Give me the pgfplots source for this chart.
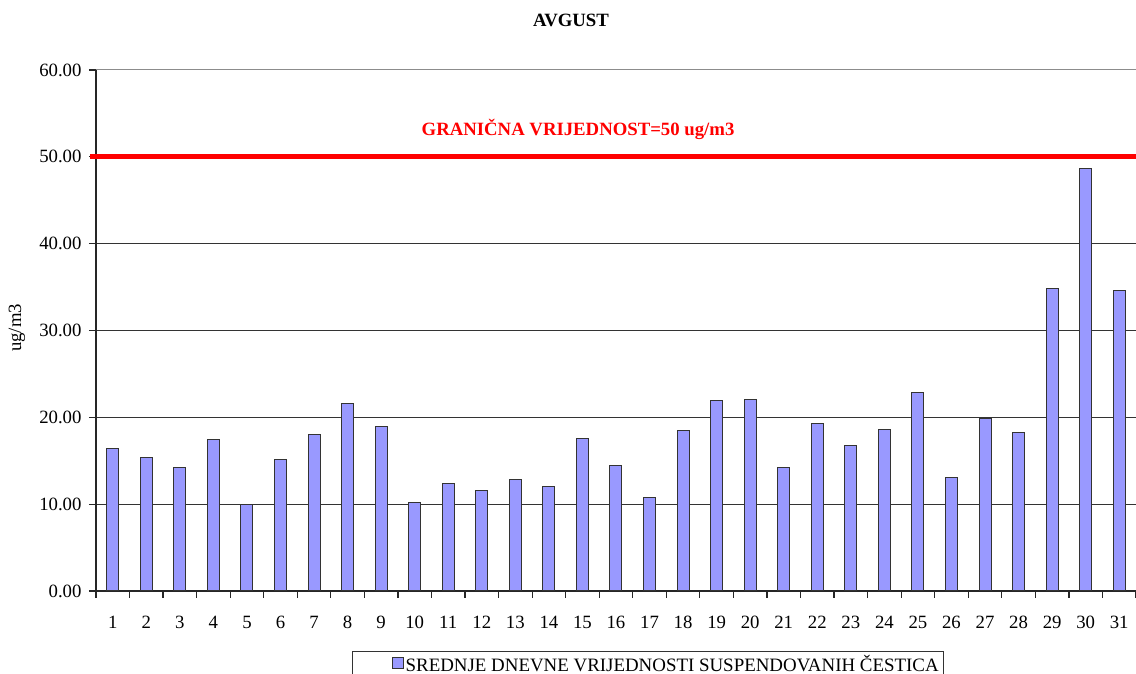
\documentclass[border=0pt]{standalone}
\usepackage{pgfplots}
\pgfplotsset{compat=1.18}
\usepackage{fontspec}
\setmainfont{Liberation Serif}
\definecolor{barcol}{HTML}{9999FF}
\begin{document}
\begin{tikzpicture}[x=1pt,y=1pt]
\useasboundingbox (0,0) rectangle (1136,674);
\begin{axis}[
  at={(96pt,83pt)}, anchor=south west,
  scale only axis, width=1040pt, height=521pt,
  xmin=0.5, xmax=31.5, ymin=0, ymax=60,
  axis x line*=bottom, axis y line*=left,
  axis line style={black!85, line width=1.2pt},
  xtick={1,...,31}, major x tick style={draw=none},
  minor xtick={0.5,1.5,...,31.5},
  minor x tick style={black!85, line width=1.2pt},
  major tick length=7pt, minor tick length=7pt,
  ytick={0,10,...,50}, ymajorgrids,
  extra y ticks={60},
  extra y tick style={grid style={black!45, line width=1pt}},
  grid style={black!80, line width=1pt},
  yticklabel style={xshift=-4pt, /pgf/number format/.cd, fixed, fixed zerofill, precision=2},
  /pgf/number format/assume math mode=true,
  tick label style={font=\fontsize{18.75}{21}\selectfont},
  tick align=outside,
  xticklabel style={yshift=-15pt},
  ytick style={black!85, line width=1.2pt},
  legend style={at={(0.531,-0.115)}, anchor=north, draw=black!80, line width=1pt,
    font=\fontsize{18.9}{21}\selectfont, inner xsep=3pt, inner ysep=1.5pt},
  legend cell align=left,
  legend image code/.code={\path (-36pt,0pt); \draw[fill=barcol, draw=black!80, line width=0.8pt] (0pt,-5pt) rectangle (11pt,6pt);},
  clip=false,
]
\addplot[ybar, bar width=12pt, fill=barcol, draw=black!80, line width=1pt] coordinates {
(1,16.4) (2,15.4) (3,14.2) (4,17.4) (5,10.0) (6,15.2) (7,18.05) (8,21.6) (9,19.0)
(10,10.2) (11,12.4) (12,11.6) (13,12.8) (14,12.0) (15,17.6) (16,14.4) (17,10.75)
(18,18.5) (19,21.9) (20,22.0) (21,14.2) (22,19.3) (23,16.8) (24,18.6) (25,22.85)
(26,13.05) (27,19.85) (28,18.2) (29,34.8) (30,48.65) (31,34.55)};
\addlegendentry{SREDNJE DNEVNE VRIJEDNOSTI SUSPENDOVANIH ČESTICA}
\addplot[red, line width=5pt, forget plot] coordinates {(0.33,50) (31.5,50)};
\node[red, font=\bfseries\fontsize{18.75}{21}\selectfont] at (axis cs:14.87,53.2) {GRANIČNA VRIJEDNOST=50 ug/m3};
\end{axis}
\node[font=\bfseries\fontsize{18.75}{21}\selectfont] at (571,654) {AVGUST};
\node[rotate=90, font=\fontsize{18.75}{21}\selectfont] at (17,346) {ug/m3};
\end{tikzpicture}
\end{document}
